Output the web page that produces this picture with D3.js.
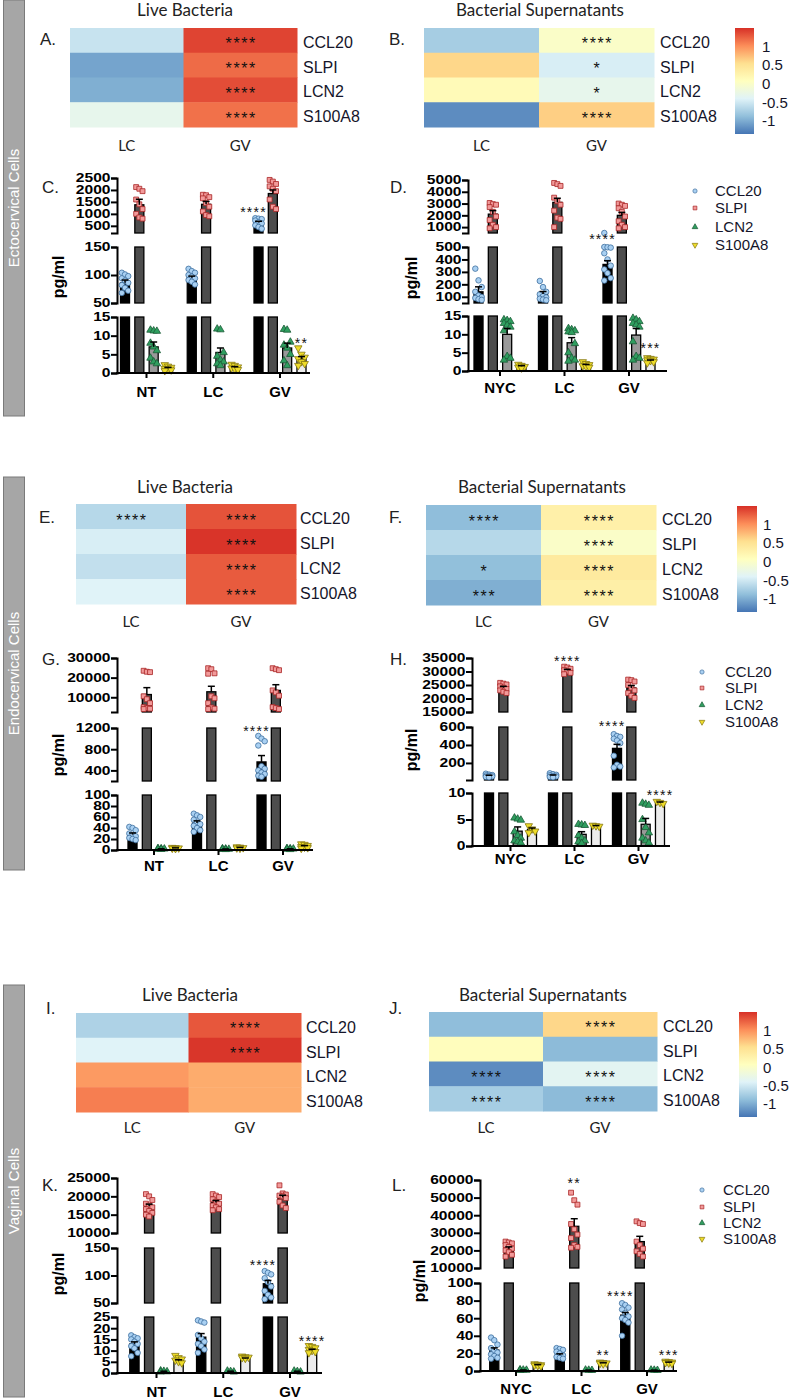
<!DOCTYPE html>
<html><head><meta charset="utf-8">
<script src="https://cdn.jsdelivr.net/npm/d3@7"></script>
<style>body{margin:0;background:#fff}svg{display:block}</style>
</head><body>
<svg id="fig" width="798" height="1400"></svg>
<script>
// ---------------- DATA ----------------
const markers = ["CCL20","SLPI","LCN2","S100A8"];
const heatCols = ["LC","GV"];
const groupsLive = ["NT","LC","GV"];
const groupsSup = ["NYC","LC","GV"];
const sections = ["Ectocervical Cells","Endocervical Cells","Vaginal Cells"];
const colorbarTicks = [1, 0.5, 0, -0.5, -1];
const titleLive = "Live Bacteria", titleSup = "Bacterial Supernatants";

// heatmap z-scores [marker][column]
const heatA = [[-0.55,1.4],[-1.05,1.2],[-0.98,1.35],[-0.3,1.17]];
const starsHeatA = [["","****"],["","****"],["","****"],["","****"]];
const heatB = [[-0.75,0.0],[0.6,-0.45],[0.15,-0.3],[-1.2,0.65]];
const starsHeatB = [["","****"],["","*"],["","*"],["","****"]];
const heatE = [[-0.65,1.32],[-0.45,1.48],[-0.58,1.28],[-0.4,1.28]];
const starsHeatE = [["****","****"],["","****"],["","****"],["","****"]];
const heatF = [[-0.88,0.3],[-0.65,0.0],[-0.87,0.4],[-0.98,0.32]];
const starsHeatF = [["****","****"],["","****"],["*","****"],["***","****"]];
const heatI = [[-0.7,1.3],[-0.4,1.47],[0.95,0.85],[1.1,0.85]];
const starsHeatI = [["","****"],["","****"],["",""],["",""]];
const heatJ = [[-0.88,0.6],[0.1,-0.9],[-1.2,-0.35],[-0.75,-0.9]];
const starsHeatJ = [["","****"],["",""],["****","****"],["****","****"]];

// bar panels: means/sem [marker][group], points [marker][group][]
const meansC = [[86,95,640],[1380,1400,1850],[7,5.5,6.7],[1.3,1.5,3.8]];
const semC = [[5,3,50],[230,120,150],[1.3,1.2,1.3],[0.2,0.2,0.6]];
const ptsC = [
 [[104,101,98,94,90,86,82,77,72,68],[111,107,104,100,97,94,91,88,83],[820,800,780,720,650,600,520,450,380]],
 [[2120,2050,1950,1600,1400,1200,1000,850,800],[1800,1780,1700,1650,1450,1300,1100,950,900],[2420,2350,2250,2150,2050,1950,1600,1300,1200]],
 [[11.5,11.3,11.2,8,7,6,4,3,2.5],[11.8,11.6,5.5,4.5,3.5,3,2.5,2],[11.7,11.5,8.3,7.5,6.7,5,3.3,2]],
 [[2.2,1.8,1.5,1.2,1,0.8,0.6],[2.3,2,1.6,1.3,1.1,0.9],[6.7,5,4.2,3.8,3,2.5,2]]
];
const domC = [[200,2500],[50,150],[0,15]];
const ticksC = [[500,1000,1500,2000,2500],[50,100,150],[0,5,10,15]];
const sigC = [["GV","CCL20","****",0,1200],["GV","S100A8","**",2,8.8]];

const meansD = [[140,122,360],[2100,3100,2000],[10,7.7,9.8],[1.26,1.6,2.8]];
const semD = [[40,20,30],[300,350,250],[1.6,1.4,1.8],[0.2,0.2,0.2]];
const ptsD = [
 [[326,232,178,140,110,98,90,80,75],[227,178,140,120,105,95,85,78,72],[500,498,495,450,400,350,320,290,250,230]],
 [[3050,2950,2900,2700,2300,1900,1600,1200,1000,900],[4750,4650,4500,3500,3200,2900,2400,1800,1700,1000],[3000,2900,2800,2600,2300,1900,1500,1200,1000,900]],
 [[14,13.8,13.5,13,12.5,12,11,4,3.5,3],[11.6,11.3,11,10.7,10.5,7.5,5,3.5,3,2.7],[14.4,14,13.5,13,12.6,12,8,4,3.5,3]],
 [[1.8,1.5,1.2,1,0.8],[2.5,2,1.7,1.4,1.2,1],[3.6,3.4,3.2,3,2.8,2.5,2.2]]
];
const domD = [[500,5000],[50,500],[0,15]];
const ticksD = [[1000,2000,3000,4000,5000],[100,200,300,400,500],[0,5,10,15]];
const sigD = [["GV","CCL20","****",1,590],["GV","S100A8","***",2,7.1]];

const meansG = [[28,49,560],[11400,12800,13500],[2,1.6,2],[3.5,4.2,6.7]];
const semG = [[3,4,120],[3500,2800,2900],[0.3,0.3,0.3],[0.4,0.5,1.3]];
const ptsG = [
 [[42,40,36,30,27,25,22,20,18],[66,63,60,55,50,47,44,40,36,33],[1050,1000,950,870,480,430,400,360,330,300,280]],
 [[23500,23000,22800,10500,9000,7000,5000,4500,4200,4000],[24800,24300,22200,22000,10500,9500,7000,4800,4200,4000],[24800,24300,23800,13500,12500,10800,5000,4500,4000]],
 [[3,2.5,2,1.5,1.2],[2.5,2,1.5,1.2,1],[3,2.5,2,1.5,1]],
 [[4.5,4,3.5,3,2.5],[5.5,5,4,3.5,3],[11,10,8,6,5,4,3]]
];
const domG = [[2500,30000],[200,1200],[0,100]];
const ticksG = [[10000,20000,30000],[400,800,1200],[0,20,40,60,80,100]];
const sigG = [["GV","CCL20","****",1,1200]];

const meansH = [[58,60,362],[24000,30400,23900],[2.8,2.2,4.1],[3.1,3.8,8.2]];
const semH = [[5,6,45],[500,400,900],[0.8,0.5,1.1],[0.3,0.05,0.1]];
const ptsH = [
 [[80,70,65,60,55,50,45,40],[85,75,68,62,55,50,45,40],[520,500,490,470,450,420,280,180,160,150]],
 [[25800,25500,25200,24500,24000,23500,23000,22500,22000],[31800,31500,31000,30500,30000,29500,29000],[27000,26800,26300,25000,24000,23000,22000,21000,20200]],
 [[5.3,5.1,4.9,2.7,2,1.5,1,0.8,0.6],[4.1,4,3.9,2,1.5,1,0.8,0.5],[8.1,7.9,7.7,5,3.5,2.5,1.5,1,0.6]],
 [[3.8,3.2,2.8,2.5],[3.9,3.8,3.7],[8.4,8.2,8]]
];
const domH = [[15000,35000],[10,600],[0,10]];
const ticksH = [[15000,20000,25000,30000,35000],[200,400,600],[0,5,10]];
const sigH = [["LC","SLPI","****",0,35000],["GV","CCL20","****",1,645],["GV","S100A8","****",2,10.2]];

const meansK = [[13,16,85],[17270,18350,19700],[0.7,0.7,0.7],[5.5,6.5,10.2]];
const semK = [[0.9,1.6,6],[600,500,600],[0.1,0.1,0.1],[0.4,0.2,0.4]];
const ptsK = [
 [[16.8,16,15.5,15,14,13,12,11,9,7.5],[23.5,23,22.5,17,15.5,14,13,12,10.5,9],[108,105,102,95,88,80,72,65,60,57]],
 [[20600,20000,19000,18000,17500,17000,16500,16000,15500,15000,14500],[20600,20200,19800,19200,18500,18000,17500,17000,16500,16200],[23000,20800,20500,20200,20000,19500,18500,17500,16800]],
 [[1,0.8,0.6,0.5],[0.9,0.7,0.5],[0.9,0.7,0.5]],
 [[7.8,6.8,6.2,5.7,5,4.5],[7.5,7.2,7,6.8,6.5],[12.2,11.8,11.2,10.5,10,9.5,9]]
];
const domK = [[10000,25000],[50,150],[0,25]];
const ticksK = [[10000,15000,20000,25000],[50,100,150],[0,5,10,15,20,25]];
const sigK = [["GV","CCL20","****",1,125],["GV","S100A8","****",2,15.6]];

const meansL = [[23.8,18,63.5],[21000,33700,25000],[1.1,1,1],[6.75,9,9.75]];
const semL = [[2.5,1.5,3],[1000,4300,3000],[0.1,0.1,0.1],[0.4,0.3,0.3]];
const ptsL = [
 [[38,35,30,26,23,21,19,17,15,14],[26,25,24,22,20,18,16,15,14],[77,75,72,70,66,62,60,58,55,40]],
 [[25000,24500,24000,23000,22000,21000,20000,19000,17500,16500],[52800,48500,46000,35000,32000,29000,27000,23000,22000,21500],[36500,35500,35000,25000,23000,21000,19500,18000,16500]],
 [[1.5,1.2,1,0.8],[1.2,1,0.8],[1.2,1,0.8]],
 [[8,7.5,7,6.5,6,5.5],[10,9.5,9,8.5,8],[11,10.5,10,9.5,9,8.5]]
];
const domL = [[10000,60000],[0,100]];
const ticksL = [[10000,20000,30000,40000,50000,60000],[0,20,40,60,80,100]];
const sigL = [["LC","SLPI","**",0,60000],["LC","S100A8","**",1,21.6],["GV","CCL20","****",1,88.6],["GV","S100A8","***",1,21.6]];

// ---------------- STYLE ----------------
const palette = ["#4575b4","#91bfdb","#e0f3f8","#ffffbf","#fee090","#fc8d59","#d73027"];
const cMin = -1.35, cMax = 1.5;
const color = d3.scaleLinear().domain(d3.range(7).map(i => cMin + i*(cMax-cMin)/6)).range(palette);
const barFill = {CCL20:"#000", SLPI:"#4d4d4d", LCN2:"#999", S100A8:"#ececec"};
const ptFill = {CCL20:"#a9d0f2", SLPI:"#f29a9a", LCN2:"#2f9e5f", S100A8:"#eedc2a"};
const ptStroke = {CCL20:"#3e6e9e", SLPI:"#a82424", LCN2:"#1b5a36", S100A8:"#857710"};
const symType = {CCL20:d3.symbolCircle, SLPI:d3.symbolSquare, LCN2:d3.symbolTriangle, S100A8:d3.symbolTriangle};
const ARIAL = "'Liberation Sans', Arial, sans-serif";
const CAL = "Lato, 'Open Sans', sans-serif";

const svg = d3.select("#fig");

// ---------------- SECTION BARS ----------------
const secY = [[0,416],[477,870],[985,1397]];
sections.forEach((s,i) => {
  svg.append("rect").attr("x",3.5).attr("y",secY[i][0]).attr("width",21).attr("height",secY[i][1]-secY[i][0])
    .attr("fill","#a6a6a6").attr("stroke","#7a7a7a").attr("stroke-width",1);
  const cy = (secY[i][0]+secY[i][1])/2;
  svg.append("text").attr("transform",`translate(19,${cy}) rotate(-90)`).attr("text-anchor","middle")
    .attr("font-family",ARIAL).attr("font-size",15).attr("fill","#fff").text(s);
});

function letter(t,x,y){
  svg.append("text").attr("x",x).attr("y",y).attr("font-family",ARIAL).attr("font-size",17).attr("fill","#222").text(t);
}

// ---------------- HEATMAPS ----------------
function drawHeat(vals, stars, title, L){
  const g = svg.append("g");
  const x = d3.scaleBand(heatCols, L.cols);
  const y = d3.scaleBand(markers, L.rows);
  markers.forEach((m,ri) => heatCols.forEach((c,ci) => {
    g.append("rect").attr("x",x(c)).attr("y",y(m)).attr("width",x.bandwidth()+0.5).attr("height",y.bandwidth()+0.5)
      .attr("fill",color(vals[ri][ci]));
    if (stars[ri][ci]) g.append("text").attr("x",x(c)+x.bandwidth()/2+1).attr("y",y(m)+y.bandwidth()/2+9)
      .attr("text-anchor","middle").attr("font-family",ARIAL).attr("font-size",16).attr("letter-spacing",1.6)
      .attr("fill","#111").text(stars[ri][ci]);
  }));
  markers.forEach(m => g.append("text").attr("x",L.labelX).attr("y",y(m)+y.bandwidth()/2+2).attr("dy","0.35em")
    .attr("font-family",ARIAL).attr("font-size",16).attr("fill","#15152a").text(m));
  heatCols.forEach(c => g.append("text").attr("x",x(c)+x.bandwidth()/2).attr("y",L.colLabelY).attr("text-anchor","middle")
    .attr("font-family",CAL).attr("font-size",15).attr("fill","#222").text(c));
  g.append("text").attr("x",L.titleX).attr("y",L.titleY).attr("text-anchor","middle")
    .attr("font-family",CAL).attr("font-size",17).attr("fill","#222").text(title);
  letter(L.letter[0],L.letter[1],L.letter[2]);
  if (L.cbar){
    const cb = L.cbar, id = "grad"+L.letter[0][0];
    const grad = svg.append("defs").append("linearGradient").attr("id",id).attr("x1",0).attr("x2",0).attr("y1",1).attr("y2",0);
    palette.forEach((p,i) => grad.append("stop").attr("offset",i/6).attr("stop-color",p));
    g.append("rect").attr("x",cb.x).attr("y",cb.y0).attr("width",cb.w).attr("height",cb.y1-cb.y0).attr("fill",`url(#${id})`);
    const cy = d3.scaleLinear([cMin,cMax],[cb.y1,cb.y0]);
    colorbarTicks.forEach(t => g.append("text").attr("x",cb.lx).attr("y",cy(t)).attr("dy","0.35em")
      .attr("font-family",ARIAL).attr("font-size",15).attr("fill","#15152a").text(t));
  }
}

drawHeat(heatA, starsHeatA, titleLive, {cols:[70,297], rows:[28,127], titleX:185, titleY:16, labelX:303, colLabelY:151, letter:["A.",40,45]});
drawHeat(heatB, starsHeatB, titleSup, {cols:[424,654], rows:[28,127], titleX:540, titleY:16, labelX:660, colLabelY:151, letter:["B.",389,45], cbar:{x:735,w:19,y0:28,y1:134,lx:762}});
drawHeat(heatE, starsHeatE, titleLive, {cols:[76,296], rows:[504,604], titleX:185, titleY:493, labelX:300, colLabelY:627, letter:["E.",39,523]});
drawHeat(heatF, starsHeatF, titleSup, {cols:[426,656], rows:[505,605], titleX:542, titleY:493, labelX:662, colLabelY:627, letter:["F.",389,523], cbar:{x:737,w:20,y0:506,y1:612,lx:763}});
drawHeat(heatI, starsHeatI, titleLive, {cols:[76,301], rows:[1013,1112], titleX:190, titleY:1001, labelX:306, colLabelY:1133, letter:["I.",46,1014]});
drawHeat(heatJ, starsHeatJ, titleSup, {cols:[429,657], rows:[1012,1111], titleX:543, titleY:1001, labelX:663, colLabelY:1133, letter:["J.",389,1014], cbar:{x:739,w:18,y0:1012,y1:1117,lx:763}});

// ---------------- BAR PANELS ----------------
function sym(m, size){ return d3.symbol(symType[m], size)(); }
function drawBars(groups, means, sems, pts, doms, ticks, sigs, L){
  const g = svg.append("g");
  const xg = d3.scalePoint(groups, L.xr);
  const xi = d3.scaleBand(markers, [-L.half, L.half]).paddingInner(0.37);
  const bw = xi.bandwidth();
  const cx = (gr, m) => xg(gr) + xi(m) + bw/2;
  const ys = doms.map((d,i) => d3.scaleLinear(d, L.segY[i]));
  const layerBars = g.append("g"), layerPts = g.append("g"), layerErr = g.append("g"), layerAx = g.append("g");
  doms.forEach((dom, si) => {
    const y = ys[si], lo = dom[0], hi = dom[1];
    const ax = d3.axisLeft(y).tickValues(ticks[si]).tickSize(6).tickSizeOuter(6).tickPadding(0.5).tickFormat(d3.format("d"));
    const a = layerAx.append("g").attr("transform",`translate(${L.axisX},0)`).call(ax);
    a.selectAll("path,line").attr("stroke","#000").attr("stroke-width",2);
    a.selectAll("text").attr("font-family",ARIAL).attr("font-size",12).attr("font-weight","bold").attr("fill","#000")
      .each(function(){ const w = this.getComputedTextLength(); d3.select(this).attr("textLength",w*1.3).attr("lengthAdjust","spacingAndGlyphs"); });
    groups.forEach((gr, gi) => markers.forEach((m, mi) => {
      const v = means[mi][gi];
      if (v > lo) {
        const top = Math.min(v, hi);
        layerBars.append("rect").attr("x",xg(gr)+xi(m)).attr("width",bw).attr("y",y(top)).attr("height",y(lo)-y(top))
          .attr("fill",barFill[m]).attr("stroke","#000").attr("stroke-width",1.3);
      }
      if (v >= lo && v <= hi) {
        const e = Math.min(v + sems[mi][gi], hi);
        layerErr.append("line").attr("x1",cx(gr,m)).attr("x2",cx(gr,m)).attr("y1",y(v)).attr("y2",y(e)).attr("stroke","#000").attr("stroke-width",1.5);
        if (v + sems[mi][gi] <= hi) layerErr.append("line").attr("x1",cx(gr,m)-3.5).attr("x2",cx(gr,m)+3.5).attr("y1",y(e)).attr("y2",y(e)).attr("stroke","#000").attr("stroke-width",1.5);
      }
      pts[mi][gi].forEach((p, pi) => {
        if (p < lo || p > hi) return;
        const dx = ((pi % 3) - 1) * 3.2;
        layerPts.append("path").attr("d", sym(m, 24))
          .attr("transform",`translate(${cx(gr,m)+dx},${y(p)})${m==="S100A8"?" rotate(180)":""}`)
          .attr("fill",ptFill[m]).attr("stroke",ptStroke[m]).attr("stroke-width",0.8);
      });
    }));
  });
  // x axis
  const y0 = ys[ys.length-1](0);
  layerAx.append("line").attr("x1",L.axisX-1).attr("x2",L.axisEnd).attr("y1",y0).attr("y2",y0).attr("stroke","#000").attr("stroke-width",2);
  groups.forEach(gr => {
    layerAx.append("line").attr("x1",xg(gr)).attr("x2",xg(gr)).attr("y1",y0).attr("y2",y0+5).attr("stroke","#000").attr("stroke-width",2);
    layerAx.append("text").attr("x",xg(gr)).attr("y",L.xLabY).attr("text-anchor","middle").attr("font-family",ARIAL)
      .attr("font-size",15).attr("font-weight","bold").text(gr);
  });
  // significance
  sigs.forEach(([gr, m, t, si, v]) => {
    g.append("text").attr("x",cx(gr,m) + (m==="CCL20" ? -5 : 0)).attr("y",ys[si](v)+8).attr("text-anchor","middle")
      .attr("font-family",ARIAL).attr("font-size",14).attr("letter-spacing",1.2).attr("fill","#111").text(t);
  });
  // y label
  g.append("text").attr("transform",`translate(${L.ylab[0]},${L.ylab[1]}) rotate(-90)`).attr("text-anchor","middle")
    .attr("font-family",ARIAL).attr("font-size",16).attr("font-weight","bold").text("pg/ml");
  letter(L.letter[0],L.letter[1],L.letter[2]);
  if (L.legend){
    markers.forEach((m,i) => {
      g.append("path").attr("d",sym(m,14)).attr("transform",`translate(${L.legend.mx},${L.legend.ys[i]})${m==="S100A8"?" rotate(180)":""}`)
        .attr("fill",ptFill[m]).attr("stroke",ptStroke[m]).attr("stroke-width",0.7);
      g.append("text").attr("x",L.legend.tx).attr("y",L.legend.ys[i]).attr("dy","0.35em").attr("font-family",ARIAL)
        .attr("font-size",15).attr("fill","#15152a").text(m);
    });
  }
}

drawBars(groupsLive, meansC, semC, ptsC, domC, ticksC, sigC,
  {segY:[[233,178],[303,247],[373,317]], xr:[146.5,280], half:26, axisX:117, axisEnd:310, xLabY:397, ylab:[64,277], letter:["C.",42,193]});
drawBars(groupsSup, meansD, semD, ptsD, domD, ticksD, sigD,
  {segY:[[233,180],[303,247],[371,316]], xr:[500,629], half:26, axisX:468, axisEnd:667, xLabY:393, ylab:[417,278], letter:["D.",390,193],
   legend:{mx:695, tx:715, ys:[191,208,227,245]}});
drawBars(groupsLive, meansG, semG, ptsG, domG, ticksG, sigG,
  {segY:[[712,658],[781,728],[850,795]], xr:[154,283], half:26, axisX:117, axisEnd:313, xLabY:871, ylab:[64,755], letter:["G.",42,665]});
drawBars(groupsSup, meansH, semH, ptsH, domH, ticksH, sigH,
  {segY:[[712,658],[780,727],[846,793]], xr:[510.5,638.5], half:26, axisX:472, axisEnd:670, xLabY:864, ylab:[417,750], letter:["H.",390,665],
   legend:{mx:702, tx:725, ys:[672,688,705,722]}});
drawBars(groupsLive, meansK, semK, ptsK, domK, ticksK, sigK,
  {segY:[[1233,1178],[1303,1248],[1373,1317]], xr:[156.5,290], half:26.7, axisX:117, axisEnd:322, xLabY:1397, ylab:[64,1274], letter:["K.",42,1191]});
drawBars(groupsSup, meansL, semL, ptsL, domL, ticksL, sigL,
  {segY:[[1268,1180],[1371,1283]], xr:[516,647], half:26.3, axisX:480, axisEnd:677, xLabY:1394, ylab:[425,1281], letter:["L.",392,1191],
   legend:{mx:702, tx:723, ys:[1190,1207,1223,1239]}});
</script>
</body></html>
